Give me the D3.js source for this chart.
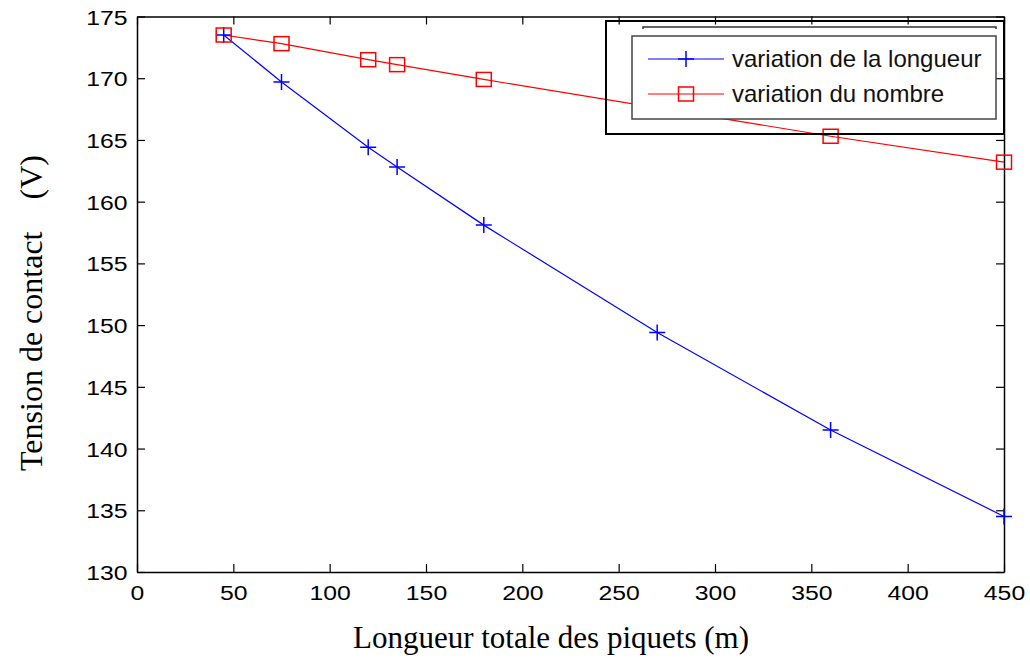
<!DOCTYPE html>
<html>
<head>
<meta charset="utf-8">
<script src="https://cdn.jsdelivr.net/npm/d3@7"></script>
<style>
  body { margin: 0; background: #fff; }
  text { white-space: pre; }
</style>
</head>
<body>
<div id="chart"></div>
<script>
const xTicks = [0, 50, 100, 150, 200, 250, 300, 350, 400, 450];
const yTicks = [130, 135, 140, 145, 150, 155, 160, 165, 170, 175];

const longueurX = [45, 75, 120, 135, 180, 270, 360, 450];
const longueurY = [173.5, 169.7, 164.4, 162.8, 158.1, 149.4, 141.5, 134.5];

const nombreX = [45, 75, 120, 135, 180, 360, 450];
const nombreY = [173.5, 172.8, 171.5, 171.1, 169.9, 165.3, 163.2];

const seriesNames = ['variation de la longueur', 'variation du nombre'];

const width = 1030;
const height = 662;
const margin = { left: 137, right: 26, top: 16.5, bottom: 90 };

const svg = d3.select('#chart')
  .append('svg')
  .attr('width', width)
  .attr('height', height);

const x = d3.scaleLinear().domain([0, 450]).range([margin.left, width - margin.right]);
const y = d3.scaleLinear().domain([130, 175]).range([height - margin.bottom, margin.top]);

const tickFont = 'Arial, "Liberation Sans", sans-serif';
const titleFont = '"Times New Roman", "Liberation Serif", serif';
const tickLen = 8;

// ticks point inward on all four sides, matlab style
const xAxis = svg.append('g')
  .attr('transform', `translate(0,${y(130)})`)
  .call(d3.axisBottom(x).tickValues(xTicks).tickSize(-tickLen).tickPadding(0).tickSizeOuter(0));
xAxis.selectAll('text')
  .attr('y', 28)
  .attr('dy', 0)
  .attr('font-family', tickFont)
  .attr('font-size', '21px')
  .attr('fill', '#000')
  .attr('transform', 'scale(1.18,1)');

const yAxis = svg.append('g')
  .attr('transform', `translate(${x(0)},0)`)
  .call(d3.axisLeft(y).tickValues(yTicks).tickSize(-tickLen).tickPadding(0).tickSizeOuter(0));
yAxis.selectAll('text')
  .attr('x', -8)
  .attr('dy', '0.36em')
  .attr('font-family', tickFont)
  .attr('font-size', '21px')
  .attr('fill', '#000')
  .attr('transform', 'scale(1.18,1)');

svg.append('g')
  .attr('transform', `translate(0,${y(175)})`)
  .call(d3.axisTop(x).tickValues(xTicks).tickSize(-tickLen).tickFormat('').tickSizeOuter(0));

svg.append('g')
  .attr('transform', `translate(${x(450)},0)`)
  .call(d3.axisRight(y).tickValues(yTicks).tickSize(-tickLen).tickFormat('').tickSizeOuter(0));

svg.selectAll('.domain').attr('stroke', '#000').attr('stroke-width', 1.5);
svg.selectAll('.tick line').attr('stroke', '#000').attr('stroke-width', 1.2);

const line = d3.line().x(d => x(d[0])).y(d => y(d[1]));

const longueur = d3.zip(longueurX, longueurY);
const nombre = d3.zip(nombreX, nombreY);

const plot = svg.append('g');

plot.append('path')
  .datum(longueur)
  .attr('d', line)
  .attr('fill', 'none')
  .attr('stroke', '#0000ff')
  .attr('stroke-width', 1.2);

plot.append('path')
  .datum(nombre)
  .attr('d', line)
  .attr('fill', 'none')
  .attr('stroke', '#ff0000')
  .attr('stroke-width', 1.2);

const plusPath = s => `M${-s},0H${s}M0,${-s}V${s}`;

plot.append('g')
  .selectAll('path')
  .data(longueur)
  .enter()
  .append('path')
  .attr('transform', d => `translate(${x(d[0])},${y(d[1])})`)
  .attr('d', plusPath(8))
  .attr('stroke', '#0000ff')
  .attr('stroke-width', 1.5);

plot.append('g')
  .selectAll('rect')
  .data(nombre)
  .enter()
  .append('rect')
  .attr('x', d => x(d[0]) - 7.5)
  .attr('y', d => y(d[1]) - 7)
  .attr('width', 15)
  .attr('height', 14)
  .attr('fill', 'none')
  .attr('stroke', '#ff0000')
  .attr('stroke-width', 1.5);

// legend, with the doubled frame seen in the original figure
const legend = svg.append('g');

legend.append('rect')
  .attr('x', 606).attr('y', 21)
  .attr('width', 398).attr('height', 113)
  .attr('fill', 'none')
  .attr('stroke', '#000')
  .attr('stroke-width', 2);

legend.append('path')
  .attr('d', 'M643,29V27H996V29')
  .attr('fill', 'none')
  .attr('stroke', '#333')
  .attr('stroke-width', 1.5);

legend.append('rect')
  .attr('x', 632).attr('y', 36)
  .attr('width', 364).attr('height', 83)
  .attr('fill', '#fff')
  .attr('stroke', '#444')
  .attr('stroke-width', 1.5);

const colors = ['#0000ff', '#ff0000'];
const entryY = [59, 94];

seriesNames.forEach((name, i) => {
  const g = legend.append('g').attr('transform', `translate(0,${entryY[i]})`);
  g.append('line')
    .attr('x1', 648).attr('x2', 724)
    .attr('stroke', colors[i])
    .attr('stroke-width', 1.2);
  if (i === 0) {
    g.append('path')
      .attr('transform', 'translate(686,0)')
      .attr('d', plusPath(8))
      .attr('stroke', colors[i])
      .attr('stroke-width', 1.5);
  } else {
    g.append('rect')
      .attr('x', 678.5).attr('y', -7)
      .attr('width', 15).attr('height', 14)
      .attr('fill', 'none')
      .attr('stroke', colors[i])
      .attr('stroke-width', 1.5);
  }
  g.append('text')
    .attr('x', 732)
    .attr('y', 8)
    .attr('font-family', tickFont)
    .attr('font-size', '24px')
    .attr('fill', '#111')
    .text(name);
});

svg.append('text')
  .attr('x', 551)
  .attr('y', 648)
  .attr('text-anchor', 'middle')
  .attr('font-family', titleFont)
  .attr('font-size', '31px')
  .attr('fill', '#000')
  .text('Longueur totale des piquets (m)');

svg.append('text')
  .attr('transform', 'translate(42,313) rotate(-90)')
  .attr('text-anchor', 'middle')
  .attr('font-family', titleFont)
  .attr('font-size', '32px')
  .attr('fill', '#000')
  .text('Tension de contact    (V)');
</script>
</body>
</html>
